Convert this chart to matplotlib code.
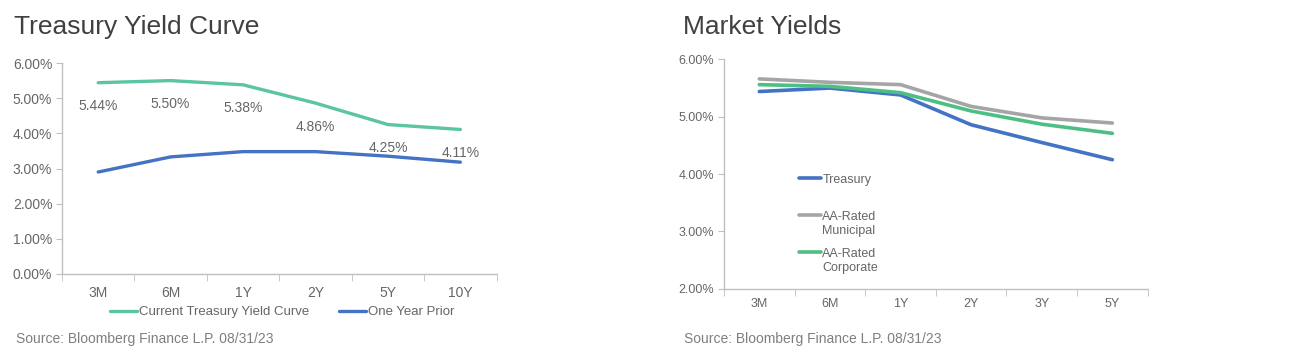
#!/usr/bin/env python
# -*- coding: utf-8 -*-

"""
Treasury yield curve and market yields, two side-by-side line charts.
"""

import numpy as np
import matplotlib
matplotlib.use("Agg")
import matplotlib.pyplot as plt
from matplotlib.ticker import FuncFormatter
from matplotlib.legend_handler import HandlerLine2D

plt.rcParams['font.family'] = ['Liberation Sans', 'DejaVu Sans']

# left chart data
curve_tenors = ['3M', '6M', '1Y', '2Y', '5Y', '10Y']
current_curve = [5.44, 5.50, 5.38, 4.86, 4.25, 4.11]
prior_curve = [2.90, 3.33, 3.48, 3.48, 3.35, 3.18]

# right chart data
market_tenors = ['3M', '6M', '1Y', '2Y', '3Y', '5Y']
treasury = [5.44, 5.50, 5.38, 4.86, 4.55, 4.25]
municipal = [5.66, 5.60, 5.56, 5.18, 4.98, 4.89]
corporate = [5.56, 5.53, 5.42, 5.10, 4.87, 4.71]

TEAL = '#5bc4a4'
GREEN = '#4dbf84'
BLUE = '#4472c4'
GRAY = '#a5a5a5'
AXIS = '#bfbfbf'
TICK = '#666666'
TITLE = '#404040'
SOURCE = '#7f7f7f'

pct = FuncFormatter(lambda v, p: f"{v:.2f}%")


class FirstLineHandler(HandlerLine2D):
    """凡例のハンドルを複数行ラベルの1行目に揃える"""
    def __init__(self, shift, **kw):
        super().__init__(**kw)
        self.shift = shift

    def create_artists(self, legend, orig_handle, xdescent, ydescent,
                       width, height, fontsize, trans):
        artists = super().create_artists(legend, orig_handle, xdescent, ydescent,
                                         width, height, fontsize, trans)
        for a in artists:
            a.set_ydata(np.asarray(a.get_ydata()) + self.shift)
        return artists


def style_axes(ax, n, size, pad):
    """Excel-like category axis: ticks at category boundaries"""
    for side in ('top', 'right'):
        ax.spines[side].set_visible(False)
    for side in ('left', 'bottom'):
        ax.spines[side].set_color(AXIS)
        ax.spines[side].set_linewidth(1)
    ax.set_xlim(-0.5, n - 0.5)
    ax.set_xticks([i - 0.5 for i in range(n + 1)], minor=True)
    ax.tick_params(axis='x', which='major', length=0, pad=pad, labelsize=size, labelcolor=TICK)
    ax.tick_params(axis='x', which='minor', length=5, color=AXIS, direction='out')
    ax.tick_params(axis='y', length=4, color=AXIS, labelsize=size, labelcolor=TICK, pad=3)
    ax.yaxis.set_major_formatter(pct)


fig = plt.figure(figsize=(13.13, 3.57), dpi=100)

# ----- Treasury Yield Curve -----
ax1 = fig.add_axes([0.0472, 0.2325, 0.331, 0.591])
x1 = range(len(curve_tenors))
l1, = ax1.plot(x1, current_curve, color=TEAL, lw=2.4, solid_capstyle='round',
               label='Current Treasury Yield Curve')
l2, = ax1.plot(x1, prior_curve, color=BLUE, lw=2.4, solid_capstyle='round',
               label='One Year Prior')
for i, v in enumerate(current_curve):
    ax1.annotate(f"{v:.2f}%", (i, v), xytext=(0, -12), textcoords='offset points',
                 ha='center', va='top', fontsize=10, color=TICK)
ax1.set_ylim(0, 6)
ax1.set_yticks([0, 1, 2, 3, 4, 5, 6])
ax1.set_xticks(list(x1))
ax1.set_xticklabels(curve_tenors)
style_axes(ax1, len(curve_tenors), 10, 9)
fig.legend(handles=[l1, l2], loc='center left', bbox_to_anchor=(0.079, 0.125),
           ncol=2, frameon=False, fontsize=9.5, labelcolor=TICK, handlelength=2.05,
           handletextpad=0.1, columnspacing=2.3, borderpad=0)

fig.text(0.011, 0.925, 'Treasury Yield Curve', fontsize=19, color=TITLE, va='center')
fig.text(0.012, 0.05, 'Source: Bloomberg Finance L.P. 08/31/23', fontsize=10,
         color=SOURCE, va='center')

# ----- Market Yields -----
ax2 = fig.add_axes([0.5514, 0.1913, 0.3227, 0.6423])
x2 = range(len(market_tenors))
t, = ax2.plot(x2, treasury, color=BLUE, lw=2.6, solid_capstyle='round', label='Treasury\n ')
m, = ax2.plot(x2, municipal, color=GRAY, lw=2.6, solid_capstyle='round',
              label='AA-Rated\nMunicipal')
c, = ax2.plot(x2, corporate, color=GREEN, lw=2.6, solid_capstyle='round',
              label='AA-Rated\nCorporate')
ax2.set_ylim(2, 6)
ax2.set_yticks([2, 3, 4, 5, 6])
ax2.set_xticks(list(x2))
ax2.set_xticklabels(market_tenors)
style_axes(ax2, len(market_tenors), 9, 7)
shift_up = FirstLineHandler(6.5)
ax2.legend(handles=[t, m, c], loc='upper left', bbox_to_anchor=(0.163, 0.526),
           frameon=False, fontsize=9, labelcolor=TICK, handlelength=1.75,
           handletextpad=0.1, labelspacing=0.9, borderpad=0,
           handler_map={t: shift_up, m: shift_up, c: shift_up})

fig.text(0.52, 0.925, 'Market Yields', fontsize=19, color=TITLE, va='center')
fig.text(0.521, 0.05, 'Source: Bloomberg Finance L.P. 08/31/23', fontsize=10,
         color=SOURCE, va='center')

fig.savefig('out.png', dpi=100)
